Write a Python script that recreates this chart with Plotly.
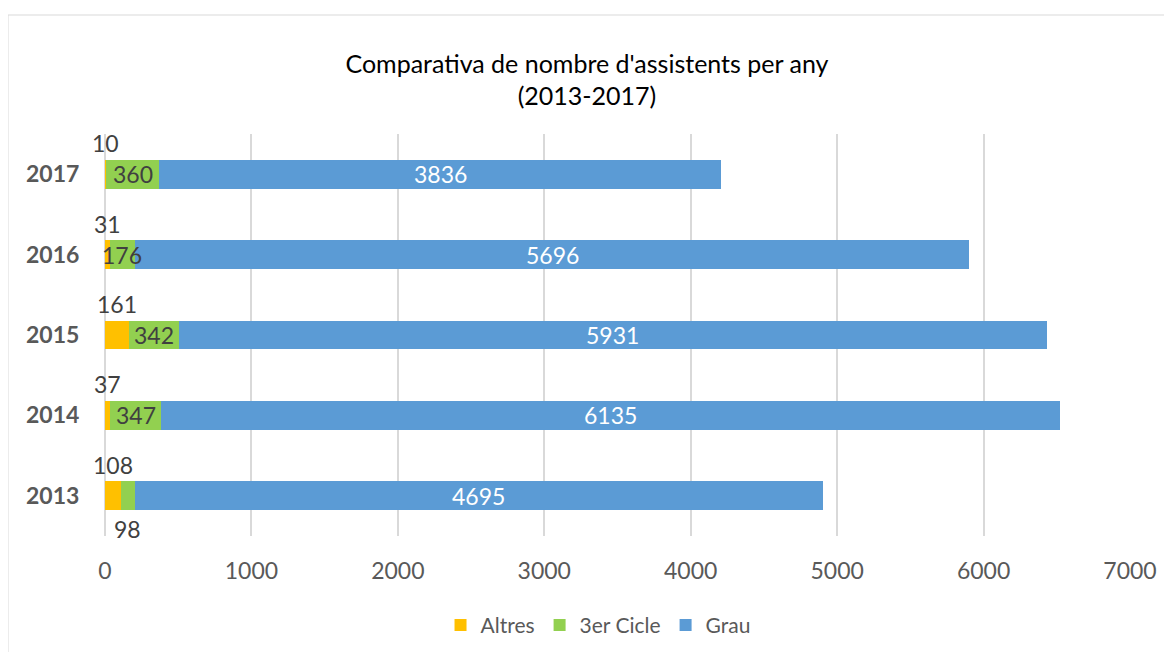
import plotly.graph_objects as go

years = [2013, 2014, 2015, 2016, 2017]
altres = [108, 37, 161, 31, 10]
cicle3 = [98, 347, 342, 176, 360]
grau = [4695, 6135, 5931, 5696, 3836]

x_ticks = [0, 1000, 2000, 3000, 4000, 5000, 6000, 7000]

C_ALT = "#FFC000"
C_CIC = "#92D050"
C_GRA = "#5B9BD5"
FONT = "Lato, Carlito, Calibri, sans-serif"
LBL = 23

fig = go.Figure()
fig.add_trace(go.Bar(y=years, x=altres, name="Altres", orientation="h",
                     marker=dict(color=C_ALT, line=dict(width=0))))
fig.add_trace(go.Bar(y=years, x=cicle3, name="3er Cicle", orientation="h",
                     marker=dict(color=C_CIC, line=dict(width=0))))
fig.add_trace(go.Bar(y=years, x=grau, name="Grau", orientation="h",
                     marker=dict(color=C_GRA, line=dict(width=0))))

annotations = []
for i, y in enumerate(years):
    a = altres[i]
    c = cicle3[i]
    g = grau[i]
    annotations.append(dict(x=a / 2, y=y, xref="x", yref="y", text=str(a),
                            showarrow=False, yshift=31,
                            font=dict(size=LBL, color="#404040", family=FONT)))
    shift = -33 if y == 2013 else 0
    annotations.append(dict(x=a + c / 2, y=y, xref="x", yref="y", text=str(c),
                            showarrow=False, yshift=shift,
                            font=dict(size=LBL, color="#404040", family=FONT)))
    annotations.append(dict(x=a + c + g / 2, y=y, xref="x", yref="y",
                            text=str(g), showarrow=False,
                            font=dict(size=LBL, color="white", family=FONT)))

fig.update_layout(
    width=1172, height=652,
    barmode="stack", bargap=0.64,
    paper_bgcolor="white", plot_bgcolor="white",
    margin=dict(l=97, r=50, t=126, b=124, autoexpand=False),
    font=dict(family=FONT, color="#595959"),
    title=dict(text="Comparativa de nombre d'assistents per any<br>(2013-2017)",
               x=0.494, xanchor="center", y=0.901, yanchor="middle",
               font=dict(size=25, color="#000000", family=FONT)),
    xaxis=dict(range=[0, 7000], tickvals=x_ticks, showgrid=True,
               gridcolor="#d9d9d9", gridwidth=1.5, zeroline=True,
               zerolinecolor="#d9d9d9", zerolinewidth=1.5,
               tickfont=dict(size=LBL, color="#595959", family=FONT),
               ticks="outside", ticklen=14, tickcolor="white"),
    yaxis=dict(type="linear", range=[2012.5, 2017.5],
               tickvals=years, ticktext=["<b>%d</b>" % y for y in years],
               showgrid=False, zeroline=False,
               ticks="outside", ticklen=20, tickcolor="white",
               tickfont=dict(size=LBL, color="#595959", family=FONT)),
    legend=dict(orientation="h", x=0.481, xanchor="center", y=-0.222,
                yanchor="middle", font=dict(size=21, color="#595959",
                                            family=FONT),
                traceorder="normal"),
    annotations=annotations,
)

fig.add_shape(type="rect", xref="paper", yref="paper",
              x0=-97 / 1025, x1=1.2, y0=-0.4, y1=(528 - 7) / 402,
              line=dict(color="#d9d9d9", width=1), fillcolor="rgba(0,0,0,0)",
              layer="below")

fig.write_html("out.html")
